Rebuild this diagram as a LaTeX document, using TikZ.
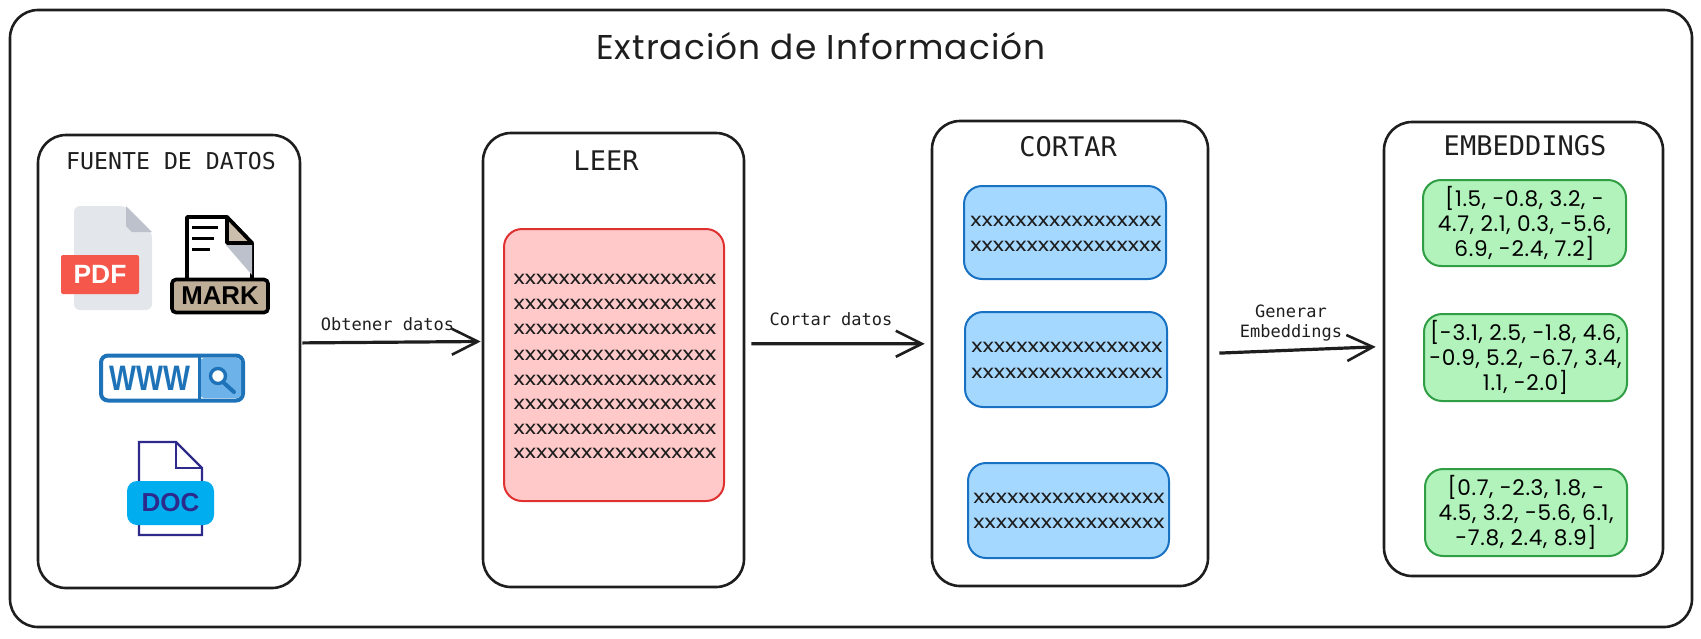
\documentclass[tikz,border=0pt]{standalone}
\usepackage{fontspec}
\usepackage{tikz}
\usetikzlibrary{arrows.meta}
\usetikzlibrary{positioning}
\setmainfont{Poppins}
\setmonofont{DejaVu Sans Mono}
\newfontfamily\boldfont{Liberation Sans}[BoldFont={Liberation Sans Bold}]
\newfontfamily\handfont{Poppins}[LetterSpace=3]
\definecolor{ink}{HTML}{1E1E1E}
\definecolor{redfill}{HTML}{FFC9C9}
\definecolor{redline}{HTML}{E03131}
\definecolor{bluefill}{HTML}{A5D8FF}
\definecolor{blueline}{HTML}{1971C2}
\definecolor{greenfill}{HTML}{B2F2BB}
\definecolor{greenline}{HTML}{2F9E44}
\definecolor{sheet}{HTML}{E3E6EA}
\definecolor{sheetfold}{HTML}{BCC1CB}
\definecolor{pdfred}{HTML}{F5584A}
\definecolor{marktan}{HTML}{BFAE97}
\definecolor{wwwblue}{HTML}{1E73B8}
\definecolor{wwwsky}{HTML}{6DB3EA}
\definecolor{docnavy}{HTML}{2E2A8C}
\definecolor{docsky}{HTML}{00AEEF}
\newcommand{\crossrow}[1]{\scalebox{1.25}[1]{#1}}
\tikzstyle{diagram picture} = [x = .5pt, y = -.5pt]
\tikzstyle{panel} = [draw = ink, line width = 1.3pt, rounded corners = 14pt, inner sep = 0]
\tikzstyle{soft box} = [line width = 1pt, rounded corners = 9pt, inner sep = 0, align = center]
\tikzstyle{red box} = [soft box, draw = redline, fill = redfill]
\tikzstyle{blue box} = [soft box, draw = blueline, fill = bluefill]
\tikzstyle{green box} = [soft box, draw = greenline, fill = greenfill, font = \handfont\fontsize{10.8}{12.5}\selectfont]
\tikzstyle{small title} = [font = \ttfamily\fontsize{11.6}{14}\selectfont, text = ink]
\tikzstyle{big title} = [font = \ttfamily\fontsize{13.5}{16}\selectfont, text = ink]
\tikzstyle{flow} = [draw = ink, line width = 1.6pt, -{Straight Barb[length = 13pt, width = 13pt, line width = 1.3pt]}]
\tikzstyle{flow label} = [font = \ttfamily\fontsize{8.5}{10}\selectfont, text = ink, align = center, inner sep = 0]
\tikzstyle{crosses} = [font = \fontsize{9.4}{11}\selectfont, text = ink, inner sep = 0]
\tikzstyle{icon text} = [font = \boldfont\bfseries, inner sep = 0]
\begin{document}
\begin{tikzpicture}[diagram picture]
            \useasboundingbox (0, 0) rectangle (1701, 638);
            \node [panel, minimum width = 841pt, minimum height = 308.5pt] (frame) at (851, 318.5) {};
            \node [font = \handfont\fontsize{17.2}{20}\selectfont, text = ink] (maintitle) at (821, 46) {Extración de Información};

            \node [panel, minimum width = 131pt, minimum height = 226.5pt] (fuente) at (169, 361.5) {};
            \node [panel, minimum width = 130.5pt, minimum height = 227pt] (leer) at (613.5, 360) {};
            \node [panel, minimum width = 138pt, minimum height = 232.5pt] (cortar) at (1070, 353.5) {};
            \node [panel, minimum width = 139.5pt, minimum height = 227pt] (embeddings) at (1523.5, 349) {};

            \node [small title] (fuentetitle) at (171, 161) {FUENTE DE DATOS};
            \node [big title] (leertitle) at (606, 161) {LEER};
            \node [big title] (cortartitle) at (1068, 147) {CORTAR};
            \node [big title] (embeddingstitle) at (1525, 146) {EMBEDDINGS};

            % pdf
            \fill [sheet, rounded corners = 3pt] (74, 206) -- (126, 206) -- (152, 232) -- (152, 310) -- (74, 310) -- cycle;
            \fill [sheetfold] (126, 206) -- (152, 232) -- (132, 232) -- (126, 226) -- cycle;
            \node [fill = pdfred, rounded corners = 1pt, text = white, icon text, minimum width = 39pt, minimum height = 19.5pt] (pdficon) at (100, 274.5) {\fontsize{13.2}{15}\selectfont PDF};

            % mark
            \draw [line width = 1.8pt, fill = white, line join = round] (187, 278) -- (187, 217) -- (227, 217) -- (252, 243) -- (252, 278);
            \fill [sheetfold] (252, 245) -- (252, 275) -- (226, 245) -- cycle;
            \draw [line width = 1.8pt, fill = marktan!80!white, line join = round] (227, 217) -- (252, 243) -- (227, 243) -- cycle;
            \foreach \y / \xend in {227 / 218, 238 / 214, 249 / 210}
            {
                \draw [line width = 1.5pt] (192, \y) -- (\xend, \y);
            }
            \node [draw = black, line width = 1.8pt, fill = marktan, rounded corners = 2pt, icon text, minimum width = 48pt, minimum height = 16.5pt] (markicon) at (220, 296) {\fontsize{12.9}{15}\selectfont MARK};

            % www
            \node [draw = wwwblue, line width = 2pt, fill = white, rounded corners = 3.5pt, minimum width = 71pt, minimum height = 22.5pt, inner sep = 0] (wwwbar) at (172, 378) {};
            \fill [wwwsky, rounded corners = 2pt] (200, 358) rectangle (241, 398);
            \draw [wwwblue, line width = 1.5pt] (199, 356) -- (199, 400);
            \node [icon text, text = wwwblue] (wwwtext) at (150, 378) {\scalebox{1.05}[1.3]{\fontsize{13.6}{15}\selectfont WWW}};
            \draw [wwwblue, line width = 1.7pt, fill = white] (218, 376) circle [radius = 7.5];
            \draw [wwwblue, line width = 2pt, line cap = round] (224, 383) -- (234, 392);

            % doc
            \draw [docnavy, line width = 1.2pt, fill = white] (139, 535) -- (139, 442) -- (176, 442) -- (202, 468) -- (202, 535) -- cycle;
            \draw [docnavy, line width = 1.2pt] (176, 442) -- (176, 468) -- (202, 468);
            \node [fill = docsky, rounded corners = 5pt, icon text, text = docnavy, minimum width = 43.5pt, minimum height = 22pt] (docicon) at (170.5, 503) {\fontsize{13}{15}\selectfont DOC};

            % leer
            \node [red box, minimum width = 110pt, minimum height = 136pt] (leerbox) at (614, 365) {};
            \foreach \y [count = \n] in {279, 304, 329, 355, 380, 404, 429, 453}
            {
                \node [crosses] (leerline\n) at (615, \y) {\crossrow{xxxxxxxxxxxxxxxxxx}};
            }

            % cortar
            \node [blue box, minimum width = 101pt, minimum height = 46.5pt] (cutone) at (1065, 232.5) {};
            \node [blue box, minimum width = 101pt, minimum height = 47.5pt] (cuttwo) at (1066, 359.5) {};
            \node [blue box, minimum width = 100.5pt, minimum height = 47.5pt] (cutthree) at (1068.5, 510.5) {};
            \foreach \name / \x / \ya / \yb in {cutone / 1066 / 221 / 246, cuttwo / 1067 / 347 / 373, cutthree / 1069 / 498 / 523}
            {
                \node [crosses] (\name a) at (\x, \ya) {\crossrow{xxxxxxxxxxxxxxxxx}};
                \node [crosses] (\name b) at (\x, \yb) {\crossrow{xxxxxxxxxxxxxxxxx}};
            }

            % embeddings
            \node [green box, minimum width = 101.5pt, minimum height = 43pt] (vecone) at (1524.5, 223) {[1.5, -0.8, 3.2, -\\4.7, 2.1, 0.3, -5.6,\\6.9, -2.4, 7.2]};
            \node [green box, minimum width = 101.5pt, minimum height = 43.5pt] (vectwo) at (1525.5, 357.5) {[-3.1, 2.5, -1.8, 4.6,\\-0.9, 5.2, -6.7, 3.4,\\1.1, -2.0]};
            \node [green box, minimum width = 101pt, minimum height = 43.5pt] (vecthree) at (1526, 512.5) {[0.7, -2.3, 1.8, -\\4.5, 3.2, -5.6, 6.1,\\-7.8, 2.4, 8.9]};

            % flows
            \draw [flow, shorten < = .5pt, shorten > = .5pt] (fuente.8) -- node [flow label, above = 5pt, xshift = -2pt] (getlabel) {Obtener datos} (leer.172);
            \draw [flow, shorten < = 3pt, shorten > = 3pt] (leer.7.6) -- node [flow label, above = 8.3pt, xshift = -3.5pt] (cutlabel) {Cortar datos} (cortar.176);
            \draw [flow, shorten < = 5pt, shorten > = 3.5pt] (cortar.0.6) -- node [flow label, above = 3.5pt, xshift = -2.5pt] (embedlabel) {Generar\\Embeddings} (embeddings.179.6);
        \end{tikzpicture}
\end{document}
